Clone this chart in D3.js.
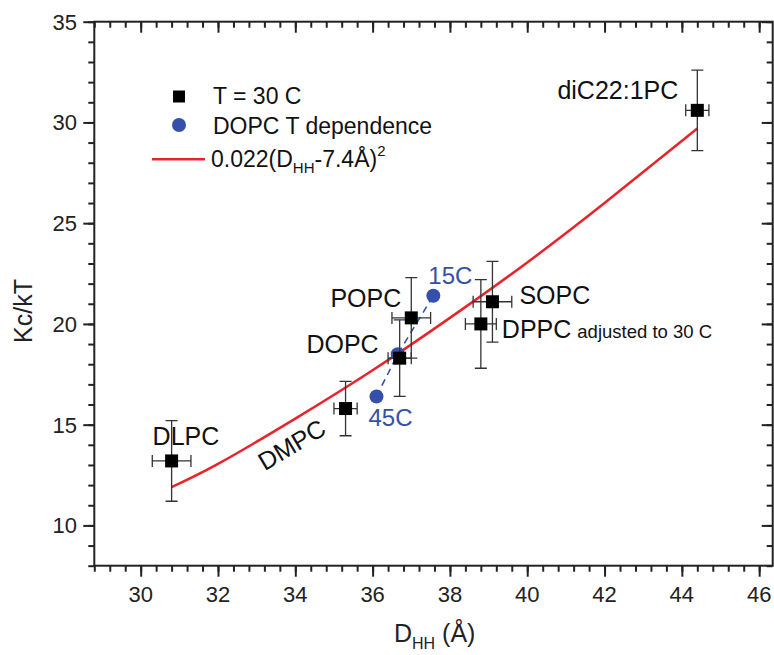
<!DOCTYPE html>
<html>
<head>
<meta charset="utf-8">
<script src="https://cdn.jsdelivr.net/npm/d3@7"></script>
<style>
  body { margin: 0; background: #fff; }
  text { font-family: "Liberation Sans", Arial, sans-serif; }
</style>
</head>
<body>
<svg id="chart" width="774" height="655"></svg>
<script>
// lipids measured at T = 30 C
const lipids = ["DLPC", "DMPC", "DOPC", "POPC", "DPPC", "SOPC", "diC22:1PC"];
const dhh = [30.8, 35.3, 36.7, 37.0, 38.8, 39.1, 44.4];
const kc = [13.2, 15.8, 18.3, 20.3, 20.0, 21.1, 30.6];
const dhhErr = [0.5, 0.3, 0.3, 0.5, 0.4, 0.5, 0.3];
const kcErr = [2.0, 1.35, 1.9, 2.0, 2.2, 2.0, 2.0];

// DOPC temperature dependence
const temps = ["45C", "30C", "15C"];
const dhhT = [36.1, 36.65, 37.57];
const kcT = [16.4, 18.5, 21.4];

// fit curve 0.022(Dhh-7.4)^2
const fitX = [30.8, 32, 34, 36, 38, 40, 42, 44.4];
const fitY = [11.9, 13.05, 15.3, 17.7, 20.3, 23.05, 26.0, 29.7];

const xMajor = [30, 32, 34, 36, 38, 40, 42, 44, 46];
const yMajor = [10, 15, 20, 25, 30, 35];

const svg = d3.select("#chart");
const blue = "#3550aa";
const red = "#e8242b";

const x = d3.scaleLinear().domain([28.8, 46.35]).range([94.3, 772.7]);
const y = d3.scaleLinear().domain([8, 35]).range([565.7, 21.7]);

const xMinor = d3.range(0, 45).map(i => Math.round((28.8 + i * 0.4) * 10) / 10).filter(v => v <= 46.35);
const yMinor = d3.range(8, 36);

/**
 * draw an axis with minor + major ticks, no domain path
 */
function drawAxis(axisFn, scale, transform, minor, major, dir) {
    const g = svg.append("g").attr("transform", transform);
    g.append("g").call(axisFn(scale).tickValues(minor).tickSizeInner(6 * dir).tickSizeOuter(0).tickFormat(""));
    g.append("g").call(axisFn(scale).tickValues(major).tickSizeInner(11 * dir).tickSizeOuter(0).tickFormat(""));
    g.selectAll(".domain").remove();
    g.selectAll("line").attr("stroke", "#222").attr("stroke-width", 2);
    return g;
}

drawAxis(d3.axisBottom, x, "translate(0,565.7)", xMinor, xMajor, 1);
drawAxis(d3.axisTop, x, "translate(0,21.7)", xMinor, xMajor, -1);
drawAxis(d3.axisLeft, y, "translate(94.3,0)", yMinor, yMajor, 1);
drawAxis(d3.axisRight, y, "translate(772.7,0)", yMinor, yMajor, -1);

// frame
svg.append("rect")
    .attr("x", x.range()[0]).attr("y", y.range()[1])
    .attr("width", x.range()[1] - x.range()[0])
    .attr("height", y.range()[0] - y.range()[1])
    .attr("fill", "none").attr("stroke", "#222").attr("stroke-width", 2);

// tick labels
svg.append("g").selectAll("text").data(xMajor).join("text")
    .attr("x", d => x(d)).attr("y", 602)
    .attr("text-anchor", "middle").attr("font-size", 22).attr("fill", "#222")
    .text(d => d);
svg.append("g").selectAll("text").data(yMajor).join("text")
    .attr("x", 77).attr("y", d => y(d)).attr("dy", "0.36em")
    .attr("text-anchor", "end").attr("font-size", 22).attr("fill", "#222")
    .text(d => d);

// axis titles
svg.append("text")
    .attr("transform", "translate(32,311) rotate(-90)")
    .attr("text-anchor", "middle").attr("font-size", 25).attr("fill", "#222")
    .text("Kc/kT");
const xt = svg.append("text").attr("x", 394).attr("y", 642).attr("font-size", 25).attr("fill", "#222");
xt.append("tspan").text("D");
xt.append("tspan").attr("font-size", 16).attr("dy", 7).text("HH");
xt.append("tspan").attr("dy", -7).text(" (Å)");

// fit curve
const fit = fitX.map((v, i) => [v, fitY[i]]);
svg.append("path")
    .datum(fit)
    .attr("d", d3.line().x(d => x(d[0])).y(d => y(d[1])).curve(d3.curveNatural))
    .attr("fill", "none").attr("stroke", red).attr("stroke-width", 2.5);

// DOPC T dependence
const tPts = temps.map((t, i) => ({ t, x: dhhT[i], y: kcT[i] }));
svg.append("path")
    .datum(tPts)
    .attr("d", d3.line().x(d => x(d.x)).y(d => y(d.y)))
    .attr("fill", "none").attr("stroke", blue).attr("stroke-width", 1.6)
    .attr("stroke-dasharray", "7,5");
svg.append("g").selectAll("circle").data(tPts).join("circle")
    .attr("cx", d => x(d.x)).attr("cy", d => y(d.y)).attr("r", 7)
    .attr("fill", blue);
svg.append("text").attr("x", x(dhhT[2]) - 5).attr("y", y(kcT[2]) - 12)
    .attr("font-size", 24).attr("fill", blue).text(temps[2]);
svg.append("text").attr("x", x(dhhT[0]) - 8).attr("y", y(kcT[0]) + 30)
    .attr("font-size", 24).attr("fill", blue).text(temps[0]);

// error bars + squares
const pts = lipids.map((name, i) => ({ name, x: dhh[i], y: kc[i], ex: dhhErr[i], ey: kcErr[i] }));
const eb = svg.append("g").attr("stroke", "#333").attr("stroke-width", 1.3).attr("fill", "none");
pts.forEach(p => {
    const cx = x(p.x), cy = y(p.y);
    const x0 = x(p.x - p.ex), x1 = x(p.x + p.ex);
    const y0 = y(p.y - p.ey), y1 = y(p.y + p.ey);
    eb.append("path").attr("d",
        `M${cx},${y0}V${y1}M${cx - 6},${y0}H${cx + 6}M${cx - 6},${y1}H${cx + 6}` +
        `M${x0},${cy}H${x1}M${x0},${cy - 6}V${cy + 6}M${x1},${cy - 6}V${cy + 6}`);
});
svg.append("g").selectAll("rect").data(pts).join("rect")
    .attr("x", d => x(d.x) - 6.5).attr("y", d => y(d.y) - 6.5)
    .attr("width", 13).attr("height", 13).attr("fill", "#000");

// point labels
const labelPos = {
    "DLPC": { dx: -19, dy: -16, anchor: "start" },
    "DOPC": { dx: -21, dy: -5, anchor: "end" },
    "POPC": { dx: -10, dy: -11, anchor: "end" },
    "SOPC": { dx: 27, dy: 2, anchor: "start" },
    "DPPC": { dx: 21, dy: 14, anchor: "start" },
    "diC22:1PC": { dx: -19, dy: -11, anchor: "end" }
};
pts.forEach(p => {
    const cx = x(p.x), cy = y(p.y);
    if (p.name === "DMPC") {
        svg.append("text")
            .attr("transform", `translate(${cx - 54},${cy + 36}) rotate(-31)`)
            .attr("text-anchor", "middle").attr("dy", "0.36em")
            .attr("font-size", 25).attr("fill", "#111").text(p.name);
        return;
    }
    const lp = labelPos[p.name];
    const t = svg.append("text")
        .attr("x", cx + lp.dx).attr("y", cy + lp.dy)
        .attr("text-anchor", lp.anchor).attr("font-size", 25).attr("fill", "#111");
    t.append("tspan").text(p.name);
    if (p.name === "DPPC") {
        t.append("tspan").attr("font-size", 18.5).attr("dx", 6).text("adjusted to 30 C");
    }
});

// legend
const lg = svg.append("g").attr("fill", "#111");
lg.append("rect").attr("x", 173).attr("y", 90.5).attr("width", 12).attr("height", 12).attr("fill", "#000");
lg.append("text").attr("x", 213).attr("y", 103.5).attr("font-size", 23).text("T = 30 C");
lg.append("circle").attr("cx", 179).attr("cy", 125).attr("r", 7).attr("fill", blue);
lg.append("text").attr("x", 213).attr("y", 133.5).attr("font-size", 23).text("DOPC T dependence");
lg.append("line").attr("x1", 152).attr("x2", 205).attr("y1", 159.3).attr("y2", 159.3)
    .attr("stroke", red).attr("stroke-width", 2.5);
const ft = lg.append("text").attr("x", 211).attr("y", 167).attr("font-size", 23);
ft.append("tspan").text("0.022(D");
ft.append("tspan").attr("font-size", 15).attr("dy", 6).text("HH");
ft.append("tspan").attr("dy", -6).text("-7.4Å)");
ft.append("tspan").attr("font-size", 15).attr("dy", -11).text("2");
</script>
</body>
</html>
